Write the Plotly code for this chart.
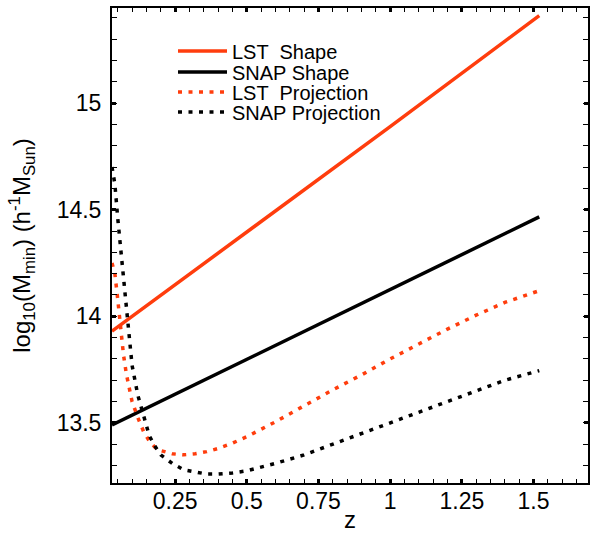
import plotly.graph_objects as go

# Redshift grid and minimum-mass curves
z_shape = [0.03, 0.5, 1.0, 1.52]
lst_shape = [13.93, 14.395, 14.89, 15.41]
snap_shape = [13.49, 13.797, 14.125, 14.466]

z_proj = [0.03, 0.04, 0.05, 0.06, 0.07, 0.08, 0.09, 0.10, 0.12, 0.14, 0.16, 0.18,
          0.20, 0.24, 0.28, 0.32, 0.36, 0.40, 0.45, 0.50, 0.60, 0.70, 0.80, 0.90,
          1.00, 1.10, 1.20, 1.30, 1.40, 1.52]
lst_proj = [14.25, 14.20, 14.08, 13.94, 13.82, 13.73, 13.66, 13.60, 13.525, 13.46,
            13.415, 13.385, 13.37, 13.355, 13.35, 13.355, 13.365, 13.38, 13.405,
            13.435, 13.505, 13.58, 13.655, 13.725, 13.80, 13.87, 13.94, 14.005,
            14.065, 14.12]
snap_proj = [14.70, 14.62, 14.46, 14.32, 14.19, 14.02, 13.87, 13.77, 13.63, 13.53,
             13.44, 13.39, 13.35, 13.31, 13.28, 13.27, 13.26, 13.26, 13.265, 13.275,
             13.31, 13.35, 13.40, 13.45, 13.50, 13.55, 13.60, 13.65, 13.70, 13.745]

x_ticks = [0.25, 0.5, 0.75, 1.0, 1.25, 1.5]
x_labels = ["0.25", "0.5", "0.75", "1", "1.25", "1.5"]
y_ticks = [13.5, 14.0, 14.5, 15.0]
y_labels = ["13.5", "14", "14.5", "15"]

legend_names = ["LST  Shape", "SNAP Shape", "LST  Projection", "SNAP Projection"]

RED = "#FF3D0D"
BLACK = "#000000"
DOT = "4px,6.5px"
FONT = "Liberation Sans, Arial, Helvetica, sans-serif"

series = [
    (z_shape, lst_shape, RED, "solid"),
    (z_shape, snap_shape, BLACK, "solid"),
    (z_proj, lst_proj, RED, DOT),
    (z_proj, snap_proj, BLACK, DOT),
]

fig = go.Figure()
for (xs, ys, col, dash), name in zip(series, legend_names):
    fig.add_trace(go.Scatter(x=xs, y=ys, mode="lines", name=name,
                             line=dict(color=col, width=3.5, dash=dash),
                             showlegend=False))

# Hand-placed legend: sample line plus label for each series
W, H = 590, 533
L, R, T, B = 112, 2, 8, 50
pw, ph = W - L - R, H - T - B
def px(x):
    return (x - L) / pw
def py(y):
    return (H - B - y) / ph

rows = [51, 72, 92, 112]
for (xs, ys, col, dash), name, ry in zip(series, legend_names, rows):
    fig.add_shape(type="line", xref="paper", yref="paper",
                  x0=px(178), x1=px(227), y0=py(ry), y1=py(ry),
                  line=dict(color=col, width=3.5, dash=dash))
    fig.add_annotation(xref="paper", yref="paper", x=px(231), y=py(ry + 1),
                       xanchor="left", yanchor="middle", showarrow=False,
                       height=24, valign="middle", borderpad=0,
                       text=name, font=dict(family=FONT, size=20, color="black"))

axis_common = dict(
    showline=True, linecolor="black", linewidth=2, mirror="allticks",
    ticks="inside", ticklen=4, tickwidth=3, tickcolor="black",
    showgrid=False, zeroline=False,
    tickfont=dict(family=FONT, size=23, color="black"),
)

fig.update_xaxes(range=[0.03, 1.69], tickvals=x_ticks, ticktext=x_labels,
                 ticklabelstandoff=-4,
                 minor=dict(dtick=0.05, tick0=0, ticks="inside", ticklen=4,
                            tickwidth=1, tickcolor="black", showgrid=False),
                 title=dict(text="z", font=dict(family=FONT, size=24, color="black"),
                            standoff=13),
                 **axis_common)
fig.update_yaxes(range=[13.218, 15.446], tickvals=y_ticks, ticktext=y_labels,
                 ticklabelstandoff=4,
                 minor=dict(dtick=0.1, tick0=0, ticks="inside", ticklen=5,
                            tickwidth=1, tickcolor="black", showgrid=False),
                 title=dict(text="log<sub>10</sub>(M<sub>min</sub>) (h<sup>-1</sup>M<sub>Sun</sub>)",
                            font=dict(family=FONT, size=24, color="black"),
                            standoff=19),
                 **axis_common)

fig.update_layout(width=W, height=H, margin=dict(l=L, r=R, t=T, b=B, autoexpand=False),
                  plot_bgcolor="white", paper_bgcolor="white")

fig.write_html("out.html")
